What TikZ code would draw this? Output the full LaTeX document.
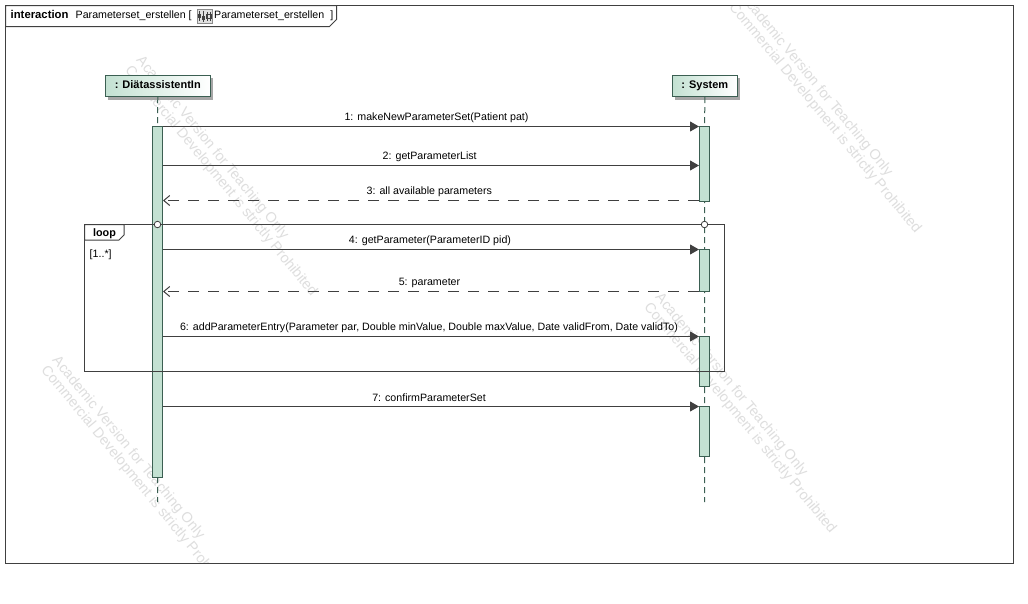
\documentclass[tikz,border=0pt]{standalone}
\usepackage{fontspec}
\setmainfont{Liberation Sans}
\usetikzlibrary{arrows.meta}
\definecolor{frameline}{HTML}{404040}
\definecolor{actfill}{HTML}{C3E1D2}
\definecolor{actline}{HTML}{3B5F52}
\definecolor{wmark}{HTML}{DEDEDE}
\tikzset{
  x=1pt,y=-1pt,
  lbl/.style={font=\fontsize{10.65}{12}\selectfont,inner sep=0pt,text=black},
  wm/.style={font=\fontsize{14.4}{14.5}\selectfont,text=wmark,inner sep=0pt,rotate=-50.6,align=left},
  head/.style={draw=actline,line width=1pt,left color=actfill,right color=white,
    minimum height=21pt,inner sep=0pt,font=\fontsize{11}{13}\bfseries\selectfont},
  shadow/.style={fill=black!35,draw=none},
  lifeline/.style={draw=actline,line width=1pt,dash pattern=on 6pt off 4pt},
  act/.style={draw=actline,fill=actfill,line width=1pt},
  msg/.style={draw=frameline,line width=1pt,-{Triangle[length=9pt,width=10pt,color=frameline]}},
  ret/.style={draw=frameline,line width=1pt,dash pattern=on 11pt off 9pt,-{Straight Barb[length=6pt,width=10pt]}},
  frm/.style={draw=frameline,line width=1pt},
  gate/.style={circle,draw=frameline,fill=white,line width=.8pt,minimum size=6.5pt,inner sep=0pt},
}
\begin{document}
\begin{tikzpicture}
\useasboundingbox (0,0) rectangle (1028,603);
\fill[white] (0,0) rectangle (1028,603);
% watermarks
\begin{scope}
\clip (5.5,5.5) rectangle (1013.5,563.5);
\node[wm,anchor=north west] (w1) at (144,54) {Academic Version for Teaching Only\\Commercial Development is strictly Prohibited};
\node[wm,anchor=north west] (w2) at (663,291) {Academic Version for Teaching Only\\Commercial Development is strictly Prohibited};
\node[wm,anchor=north west] (w3) at (60,354) {Academic Version for Teaching Only\\Commercial Development is strictly Prohibited};
\node[wm,anchor=north west] (w4) at (748,-9) {Academic Version for Teaching Only\\Commercial Development is strictly Prohibited};
\end{scope}
% outer frame
\draw[frm] (5.5,5.5) rectangle (1013.5,563.5);
\draw[frm,fill=white] (5.5,26.5) -- (329.5,26.5) -- (336.5,19.5) -- (336.5,5.5) -- (5.5,5.5) -- cycle;
\node[lbl,anchor=base west,font=\fontsize{11.3}{13}\bfseries\selectfont] (kw) at (10.5,18) {interaction};
\node[lbl,anchor=base west] (nm) at (75.5,18) {Parameterset\_erstellen [};
\node[draw=black!45,fill=black!12,minimum width=14.5pt,minimum height=14.5pt,inner sep=0pt] (ic) at (204.5,16) {};
\draw[black!75,line width=.7pt] (199.5,11) -- (199.5,21) (203,10.5) -- (203,21.5) (207,12) -- (207,21) (210,12) -- (210,21);
\draw[black!75,line width=.7pt] (198.5,14) rectangle (200.5,17) (202,16) rectangle (204.5,19) (206,14.5) rectangle (211,18);
\node[lbl,anchor=base west] (nm2) at (214,18) {Parameterset\_erstellen\hspace{6pt}]};
% lifelines
\fill[shadow] (108,78) rectangle (213,99.5);
\fill[shadow] (675,78) rectangle (740,99.5);
\node[head,anchor=north west,minimum width=104.5pt] (pa) at (105,75) {\raisebox{2.2pt}{: DiätassistentIn}};
\node[head,anchor=north west,minimum width=64.5pt] (pb) at (672,75) {\raisebox{2.2pt}{: System}};
\coordinate (ea) at (157.5,502);
\coordinate (eb) at (704.5,502);
\draw[lifeline] (pa.south) -- (ea);
\draw[lifeline] (pb.south) -- (eb);
% activations
\node[act,anchor=north west,minimum width=10pt,minimum height=351pt,inner sep=0pt] (aa) at (152,126) {};
\node[act,anchor=north west,minimum width=10pt,minimum height=75pt,inner sep=0pt] (b1) at (699,126) {};
\node[act,anchor=north west,minimum width=10pt,minimum height=42pt,inner sep=0pt] (b2) at (699,249) {};
\node[act,anchor=north west,minimum width=10pt,minimum height=50pt,inner sep=0pt] (b3) at (699,336) {};
\node[act,anchor=north west,minimum width=10pt,minimum height=50pt,inner sep=0pt] (b4) at (699,406) {};
% loop fragment
\draw[frm] (84.5,224.5) rectangle (724.5,371.5);
\draw[frm,fill=white] (84.5,240) -- (119,240) -- (124,235) -- (124,224.5) -- (84.5,224.5) -- cycle;
\node[lbl,anchor=base,font=\fontsize{10.8}{12}\bfseries\selectfont] (lp) at (104.5,236.5) {loop};
\node[lbl,anchor=base west] (gd) at (89.5,257) {[1..*]};
\node[gate] (g1) at (157.5,224.5) {};
\node[gate] (g2) at (704.5,224.5) {};
% messages
\coordinate (m1a) at (163,126.5);
\coordinate (m1b) at (699,126.5);
\draw[msg] (m1a) -- (m1b);
\node[lbl] (t1) at (436.5,118) {1:\hspace{4pt}makeNewParameterSet(Patient pat)};
\coordinate (m2a) at (163,165.5);
\coordinate (m2b) at (699,165.5);
\draw[msg] (m2a) -- (m2b);
\node[lbl] (t2) at (429.7,157) {2:\hspace{4pt}getParameterList};
\coordinate (m3a) at (163,200.5);
\coordinate (m3b) at (699,200.5);
\draw[ret] (m3b) -- (m3a);
\node[lbl] (t3) at (429.3,192) {3:\hspace{4pt}all available parameters};
\coordinate (m4a) at (163,249.5);
\coordinate (m4b) at (699,249.5);
\draw[msg] (m4a) -- (m4b);
\node[lbl] (t4) at (430,241) {4:\hspace{4pt}getParameter(ParameterID pid)};
\coordinate (m5a) at (163,291.5);
\coordinate (m5b) at (699,291.5);
\draw[ret] (m5b) -- (m5a);
\node[lbl] (t5) at (429.5,283) {5:\hspace{4pt}parameter};
\coordinate (m6a) at (163,336.5);
\coordinate (m6b) at (699,336.5);
\draw[msg] (m6a) -- (m6b);
\node[lbl] (t6) at (429,328) {6:\hspace{4pt}addParameterEntry(Parameter par, Double minValue, Double maxValue, Date validFrom, Date validTo)};
\coordinate (m7a) at (163,406.5);
\coordinate (m7b) at (699,406.5);
\draw[msg] (m7a) -- (m7b);
\node[lbl] (t7) at (429,398) {7:\hspace{4pt}confirmParameterSet};
\end{tikzpicture}
\end{document}
